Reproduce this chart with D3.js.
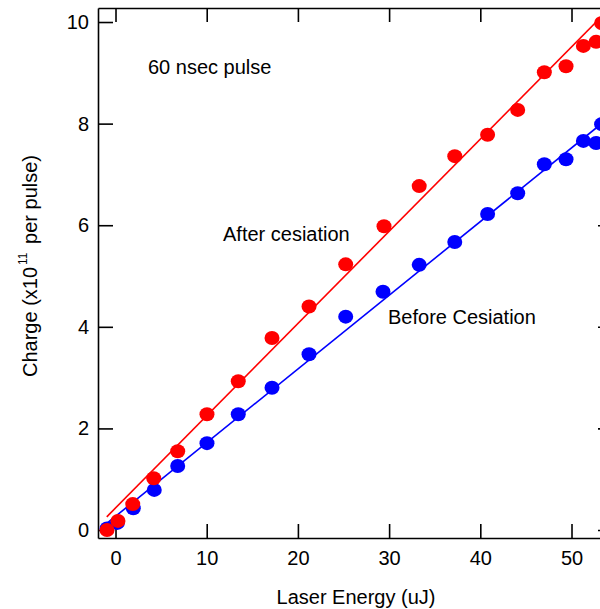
<!DOCTYPE html>
<html>
<head>
<meta charset="utf-8">
<script src="https://cdn.jsdelivr.net/npm/d3@7"></script>
<style>
  html, body { margin: 0; padding: 0; background: #fff; }
  svg { display: block; }
  text { font-family: "Liberation Sans", Arial, sans-serif; fill: #000; }
</style>
</head>
<body>
<div id="chart"></div>
<script>
// ---- data ----
const xTicks = [0, 10, 20, 30, 40, 50];
const yTicks = [0, 2, 4, 6, 8, 10];

const afterEnergy = [-0.93, 0.27, 1.89, 4.19, 6.82, 10.03, 13.46, 17.16, 21.22, 25.24, 29.44, 33.3, 37.2, 40.8, 44.1, 47.02, 49.4, 51.3, 52.69, 53.3];
const afterCharge = [0.0, 0.18, 0.51, 1.02, 1.55, 2.28, 2.93, 3.78, 4.40, 5.23, 5.98, 6.77, 7.36, 7.78, 8.27, 9.01, 9.13, 9.53, 9.61, 9.98];

const beforeEnergy = [-0.93, 0.2, 1.95, 4.25, 6.82, 10.03, 13.46, 17.16, 21.22, 25.24, 29.33, 33.3, 37.2, 40.8, 44.1, 47.02, 49.4, 51.3, 52.69, 53.3];
const beforeCharge = [0.03, 0.14, 0.43, 0.79, 1.26, 1.71, 2.28, 2.80, 3.46, 4.20, 4.69, 5.22, 5.67, 6.22, 6.63, 7.20, 7.30, 7.66, 7.62, 7.99];

// fitted lines (end points)
const afterFitEnergy = [-0.96, 54.4];
const afterFitCharge = [0.26, 10.31];
const beforeFitEnergy = [-0.96, 54.4];
const beforeFitCharge = [0.13, 8.16];

const labels = {
  pulse: "60 nsec pulse",
  after: "After cesiation",
  before: "Before Cesiation",
  xTitle: "Laser Energy (uJ)"
};

// ---- chart ----
const W = 600, H = 609;
const svg = d3.select("#chart").append("svg").attr("width", W).attr("height", H);

const x = d3.scaleLinear().domain([-1.92, 54.44]).range([98, 612]);
const y = d3.scaleLinear().domain([-0.157, 10.276]).range([538, 8]);

const FS = 20;

// axes
const gB = svg.append("g").attr("transform", `translate(0,${y.range()[0]})`)
  .call(d3.axisBottom(x).tickValues(xTicks).tickSizeInner(-14).tickSizeOuter(0).tickPadding(13));
const gT = svg.append("g").attr("transform", `translate(0,${y.range()[1]})`)
  .call(d3.axisTop(x).tickValues(xTicks).tickSizeInner(-14).tickSizeOuter(0).tickFormat(""));
const gL = svg.append("g").attr("transform", `translate(${x.range()[0]},0)`)
  .call(d3.axisLeft(y).tickValues(yTicks).tickSizeInner(-15).tickSizeOuter(0).tickPadding(9));
const gR = svg.append("g").attr("transform", `translate(${x.range()[1]},0)`)
  .call(d3.axisRight(y).tickValues(yTicks).tickSizeInner(-14).tickSizeOuter(0).tickFormat(""));

[gB, gT, gL, gR].forEach(g => {
  g.selectAll("path.domain").attr("stroke", "#000").attr("stroke-width", 1.6);
  g.selectAll(".tick line").attr("stroke", "#000").attr("stroke-width", 1.6);
  g.selectAll(".tick text").attr("font-size", FS).attr("font-family", '"Liberation Sans", Arial, sans-serif').attr("fill", "#000");
});

// lines + points
const line = d3.line().x(d => x(d[0])).y(d => y(d[1]));

function series(ex, ch, fx, fy, color) {
  svg.append("path")
    .datum(fx.map((v, i) => [v, fy[i]]))
    .attr("d", line)
    .attr("fill", "none")
    .attr("stroke", color)
    .attr("stroke-width", 1.6);
  svg.append("g").selectAll("ellipse")
    .data(ex.map((v, i) => [v, ch[i]]))
    .join("ellipse")
    .attr("cx", d => x(d[0]))
    .attr("cy", d => y(d[1]))
    .attr("rx", 7.5)
    .attr("ry", 7)
    .attr("fill", color);
}
series(beforeEnergy, beforeCharge, beforeFitEnergy, beforeFitCharge, "#0000ff");
series(afterEnergy, afterCharge, afterFitEnergy, afterFitCharge, "#ff0000");

// annotations
svg.append("text").attr("x", 148).attr("y", 74).attr("font-size", FS).text(labels.pulse);
svg.append("text").attr("x", 223).attr("y", 241).attr("font-size", FS).text(labels.after);
svg.append("text").attr("x", 388).attr("y", 324).attr("font-size", FS).text(labels.before);

// x title
svg.append("text").attr("x", 356).attr("y", 604).attr("text-anchor", "middle")
  .attr("font-size", FS).text(labels.xTitle);

// y title with superscript
const yt = svg.append("text").attr("transform", "translate(37,377) rotate(-90)")
  .attr("font-size", FS);
yt.append("tspan").text("Charge (x10");
yt.append("tspan").attr("font-size", 12).attr("dy", -10).attr("dx", 2).text("11");
yt.append("tspan").attr("dy", 10).attr("dx", 3).text(" per pulse)");
</script>
</body>
</html>
